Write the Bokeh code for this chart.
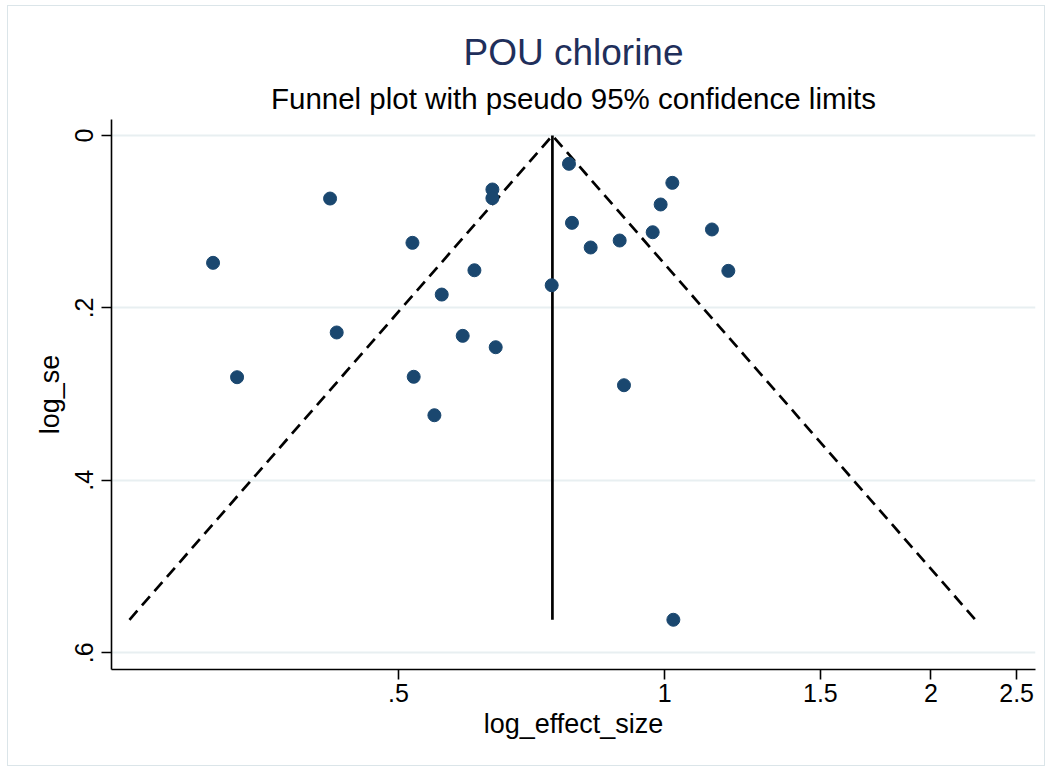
from bokeh.plotting import figure
from bokeh.layouts import column
from bokeh.models import Range1d, FixedTicker, Title
from bokeh.embed import file_html
from bokeh.resources import INLINE
import math

# Study-level effect sizes (ratio scale) and their standard errors
effect_size = [0.4185, 0.3086, 0.6386, 0.6386, 0.5186, 0.6094, 0.5597, 0.7452,
               0.7795, 0.7856, 0.8248, 0.4258, 0.5911, 0.6441, 0.3285, 0.5203,
               0.5491, 1.0202, 0.9896, 0.8895, 0.9693, 1.1310, 1.1803, 0.8995,
               1.0229]
std_err = [0.0731, 0.1477, 0.0626, 0.0727, 0.1245, 0.1563, 0.1845, 0.1737,
           0.0328, 0.1013, 0.1299, 0.2285, 0.2324, 0.2456, 0.2804, 0.2799,
           0.3245, 0.0549, 0.0800, 0.1218, 0.1122, 0.1090, 0.1570, 0.2897,
           0.5618]

# Pooled (fixed-effect) estimate on the ratio scale
pooled_effect = 0.7466

x_ticks = [0.5, 1, 1.5, 2, 2.5]
x_tick_labels = [".5", "1", "1.5", "2", "2.5"]
y_ticks = [0, 0.2, 0.4, 0.6]
y_tick_labels = ["0", ".2", ".4", ".6"]

FONT = "Liberation Sans"
NAVY = "#1a476f"

# the graph sits inside a thin outlined region (7px / 5px in from the page edge)
p = figure(width=1036, height=759, x_axis_type="log",
           x_range=Range1d(0.2369, 2.626), y_range=Range1d(0.6195, -0.0186),
           output_backend="svg", toolbar_location=None,
           min_border_left=103, min_border_right=9,
           min_border_top=113, min_border_bottom=96,
           title="POU chlorine")

p.outline_line_color = None
p.background_fill_color = "white"
p.border_fill_color = "white"

# main title (outer) and subtitle (next to the plot area)
p.title.text_font = FONT
p.title.text_font_size = "37px"
p.title.text_font_style = "normal"
p.title.text_color = "#1f2f5b"
p.title.align = "center"
p.title.standoff = 4
p.add_layout(Title(text="Funnel plot with pseudo 95% confidence limits",
                   text_font=FONT, text_font_size="29.5px",
                   text_font_style="normal", text_color="black",
                   align="center"), "above")

# axes
for ax in (p.xaxis[0], p.yaxis[0]):
    ax.axis_line_color = "black"
    ax.axis_line_width = 1.6
    ax.major_tick_line_color = "black"
    ax.major_tick_line_width = 1.6
    ax.major_tick_out = 10
    ax.major_tick_in = 0
    ax.minor_tick_line_color = None
    ax.major_label_text_font = FONT
    ax.major_label_text_font_size = "25px"
    ax.major_label_text_color = "black"
    ax.axis_label_text_font = FONT
    ax.axis_label_text_font_size = "27px"
    ax.axis_label_text_font_style = "normal"
    ax.axis_label_text_color = "black"

p.xaxis.ticker = FixedTicker(ticks=x_ticks)
p.xaxis.major_label_overrides = dict(zip(x_ticks, x_tick_labels))
p.xaxis.axis_label = "log_effect_size"
p.xaxis.major_label_standoff = 4
p.xaxis.axis_label_standoff = 4

p.yaxis.ticker = FixedTicker(ticks=y_ticks)
p.yaxis.major_label_overrides = dict(zip(y_ticks, y_tick_labels))
p.yaxis.major_label_orientation = "vertical"
p.yaxis.axis_label = "log_se"
p.yaxis.major_label_standoff = 8
p.yaxis.axis_label_standoff = 8

p.xgrid.grid_line_color = None
p.ygrid.grid_line_color = "#e8eff1"
p.ygrid.grid_line_width = 2

# pseudo 95% confidence limits around the pooled estimate
se_max = max(std_err)
lo = math.exp(math.log(pooled_effect) - 1.96 * se_max)
hi = math.exp(math.log(pooled_effect) + 1.96 * se_max)
p.line([lo, pooled_effect, hi], [se_max, 0, se_max], line_color="black",
       line_width=2.7, line_dash="12 7")
p.line([pooled_effect, pooled_effect], [0, se_max], line_color="black",
       line_width=2.7)

p.scatter(effect_size, std_err, size=13, fill_color=NAVY, line_color=NAVY)

page = column(p, margin=(5, 0, 0, 7),
              styles={"border": "1px solid #dbe5e9", "box-sizing": "content-box"})

open("out.html", "w").write(file_html(page, INLINE))
